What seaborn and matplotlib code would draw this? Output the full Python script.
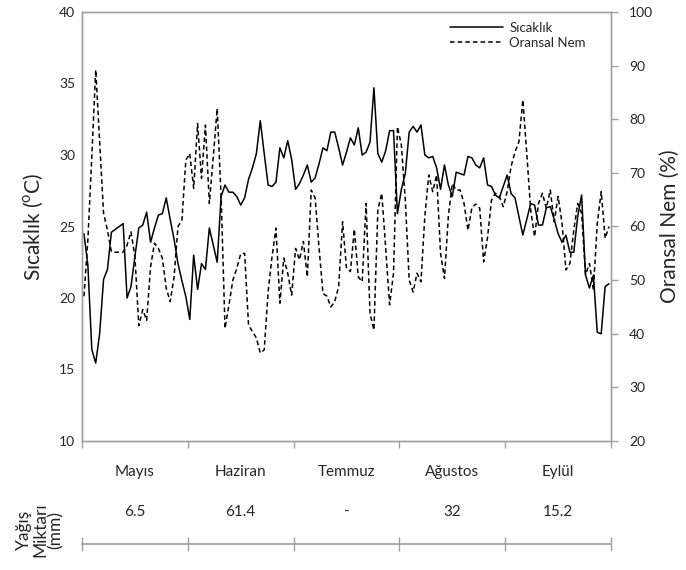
import numpy as np
import pandas as pd
import matplotlib
matplotlib.use("Agg")
import matplotlib.pyplot as plt
import matplotlib.transforms as mtransforms
from matplotlib.lines import Line2D
import seaborn as sns

# Daily air temperature (°C), May - September
temp = [24.5, 22.3, 16.4, 15.45, 17.5, 21.3, 22.0, 24.6, 24.8, 25.0,
        25.2, 20.0, 20.8, 22.9, 24.9, 25.1, 26.0, 23.9, 24.9, 25.8,
        25.9, 27.0, 25.5, 24.1, 22.4, 21.2, 20.1, 18.5, 23.0, 20.6,
        22.4, 22.0, 24.9, 23.7, 22.5, 27.1, 27.9, 27.4, 27.4, 27.1,
        26.5, 27.0, 28.3, 29.1, 30.1, 32.4, 30.1, 27.9, 27.8, 28.1,
        30.5, 29.8, 31.0, 29.7, 27.6, 28.0, 28.6, 29.3, 28.1, 28.4,
        29.4, 30.5, 30.3, 31.6, 31.6, 30.5, 29.3, 30.2, 31.2, 30.7,
        31.9, 30.0, 30.2, 30.9, 34.7, 30.1, 29.5, 30.3, 31.7, 31.7,
        25.9, 27.6, 28.7, 31.6, 32.0, 31.6, 32.1, 30.0, 29.8, 29.9,
        29.1, 27.6, 29.3, 27.9, 27.1, 28.8, 28.7, 28.6, 29.9, 29.8,
        29.3, 29.1, 29.8, 27.9, 27.8, 27.2, 27.0, 27.8, 28.6, 27.3,
        27.0, 25.7, 24.4, 25.5, 26.6, 26.5, 25.1, 25.1, 26.3, 26.4,
        25.5, 24.5, 23.9, 24.4, 23.2, 23.2, 25.7, 27.2, 21.6, 20.7,
        21.6, 17.6, 17.5, 20.8, 21.0]

# Daily relative humidity (%)
hum = [47.0, 57.5, 73.0, 89.2, 76.0, 62.5, 59.3, 55.3, 55.2, 55.2,
       55.2, 56.5, 59.0, 54.4, 41.5, 44.5, 42.5, 52.5, 56.9, 55.9,
       54.1, 48.5, 46.0, 50.6, 60.0, 61.2, 72.4, 73.6, 67.1, 79.2,
       69.0, 78.9, 64.3, 73.0, 82.0, 65.6, 41.0, 45.4, 50.0, 52.2,
       54.9, 55.0, 41.6, 40.4, 39.2, 36.4, 37.0, 47.8, 54.4, 59.7,
       45.7, 54.1, 51.3, 47.2, 55.9, 53.8, 57.2, 50.6, 66.8, 65.3,
       56.0, 47.5, 47.0, 45.0, 46.0, 48.8, 60.9, 52.2, 51.6, 59.5,
       50.6, 49.7, 64.3, 43.8, 40.7, 63.1, 66.2, 56.0, 45.4, 51.3,
       78.6, 75.2, 65.0, 50.0, 47.8, 51.3, 49.7, 62.0, 69.6, 66.5,
       69.6, 55.0, 50.3, 62.0, 68.0, 66.8, 66.8, 64.3, 59.3, 63.5,
       64.2, 63.4, 53.4, 58.0, 64.9, 66.2, 65.6, 63.7, 66.5, 71.2,
       73.9, 75.8, 83.6, 73.7, 63.1, 58.1, 64.3, 66.2, 63.4, 66.8,
       60.9, 65.6, 60.6, 51.9, 53.1, 59.3, 64.3, 62.5, 51.0, 53.1,
       48.2, 60.6, 66.5, 57.8, 60.0]

months = ["Mayıs", "Haziran", "Temmuz", "Ağustos", "Eylül"]
rain = ["6.5", "61.4", "-", "32", "15.2"]
temp_ticks = [10, 15, 20, 25, 30, 35, 40]
hum_ticks = [20, 30, 40, 50, 60, 70, 80, 90, 100]

sns.set_theme(style="white")
plt.rcParams["font.family"] = ["Lato", "DejaVu Sans"]

W, H = 686, 570
fig = plt.figure(figsize=(W / 100, H / 100), dpi=100)
L, R, T, B = 82, 611, 12, 441
ax = fig.add_axes([L / W, 1 - B / H, (R - L) / W, (B - T) / H])

n = len(temp)
per = n // len(months)
df = pd.DataFrame({"gun": np.arange(n), "temp": temp, "hum": hum})

sns.lineplot(data=df, x="gun", y="temp", ax=ax, color="black", lw=1.1)
ax2 = ax.twinx()
sns.lineplot(data=df, x="gun", y="hum", ax=ax2, color="black", lw=1.1,
             linestyle=(0, (3, 2)))

ax.set_xlim(-0.5, n - 0.5)
ax.set_ylim(10, 40)
ax2.set_ylim(20, 100)
ax.set_yticks(temp_ticks)
ax2.set_yticks(hum_ticks)

gray = "#a0a0a0"
for a in (ax, ax2):
    for s in a.spines.values():
        s.set_color(gray)
        s.set_linewidth(1.0)
    a.set_xlabel("")

bounds = [i * per - 0.5 for i in range(len(months) + 1)]
centers = [i * per + (per - 1) / 2 for i in range(len(months))]
ax.set_xticks(bounds)
ax.set_xticklabels([])
ax.set_xticks(centers, minor=True)
ax.set_xticklabels(months, minor=True, fontsize=11)
ax.tick_params(axis="x", which="major", direction="out", length=5,
               color=gray, width=1, bottom=True)
ax.tick_params(axis="x", which="minor", length=0, pad=17, bottom=True)
ax.tick_params(axis="y", left=True, length=0, labelsize=10, pad=5)
ax2.tick_params(axis="y", right=True, direction="out", length=5,
                color=gray, width=1, labelsize=10, pad=8)

ax.set_ylabel("Sıcaklık ($^\\mathregular{o}$C)", fontsize=15, labelpad=10)
ax2.set_ylabel("Oransal Nem (%)", fontsize=15, labelpad=5)

handles = [Line2D([], [], color="black", lw=1.1),
           Line2D([], [], color="black", lw=1.1, linestyle=(0, (3, 2)))]
ax.legend(handles, ["Sıcaklık", "Oransal Nem"], loc="upper right",
          bbox_to_anchor=(0.975, 1.005), frameon=False, fontsize=9.5,
          handlelength=4.0, handletextpad=0.5, labelspacing=0.25)

# rainfall table row
ax3 = fig.add_axes([L / W, 1 - 544 / H, (R - L) / W, 0.0001])
ax3.set_xlim(ax.get_xlim())
for s in ["top", "left", "right"]:
    ax3.spines[s].set_visible(False)
ax3.spines["bottom"].set_color(gray)
ax3.set_yticks([])
ax3.set_xticks(bounds)
ax3.set_xticklabels([])
ax3.tick_params(axis="x", direction="inout", length=10, color=gray,
                width=1, bottom=True)
ax3.set_facecolor("none")

tr = mtransforms.blended_transform_factory(ax.transData, fig.transFigure)
for c, v in zip(centers, rain):
    fig.text(c, 1 - 512 / H, v, transform=tr, ha="center", va="center",
             fontsize=11)

fig.text(40 / W, 1 - 530 / H, "Yağış\nMiktarı\n(mm)", rotation=90,
         ha="center", va="center", fontsize=12.5, linespacing=1.0,
         multialignment="center")

fig.savefig("out.png", dpi=100)
